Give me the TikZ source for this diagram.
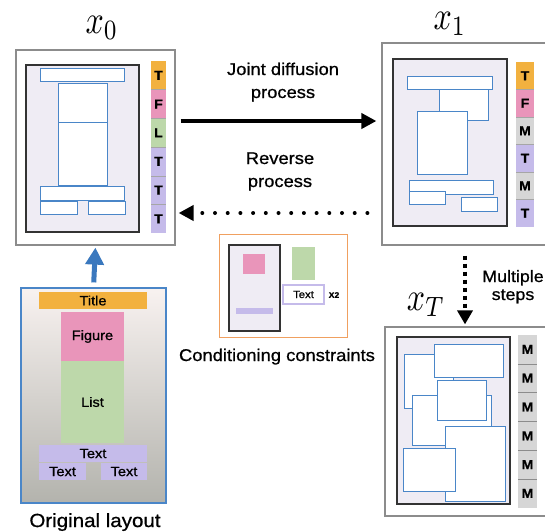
\documentclass[tikz,border=0pt]{standalone}
\usepackage[no-math]{fontspec}
\setmainfont{Liberation Sans}[FakeStretch=1.08, FakeBold=0.8]
\usetikzlibrary{arrows.meta}

\definecolor{frameGray}{HTML}{8C8C8C}
\definecolor{pageLine}{HTML}{333333}
\definecolor{pageFill}{HTML}{EFECF4}
\definecolor{slotBlue}{HTML}{4A86C8}
\definecolor{arrowBlue}{HTML}{3A78BE}
\definecolor{ttlOrange}{HTML}{F2B13F}
\definecolor{figPink}{HTML}{E995BA}
\definecolor{lstGreen}{HTML}{BDD8AA}
\definecolor{txtLav}{HTML}{C5BBEA}
\definecolor{mskGray}{HTML}{D6D6D6}
\definecolor{condOrange}{HTML}{F0A060}
\definecolor{layTop}{HTML}{F8F2F0}
\definecolor{layBot}{HTML}{B3B3AD}

\newcommand{\bigmath}[1]{\scalebox{3.2}[4]{$#1$}}

\begin{document}
\begin{tikzpicture}[
		x=1pt,
		y=-1pt,
		every node/.style={inner sep=0},
		lbl/.style={font=\fontsize{17}{23}\selectfont, align=center},
		frame/.style={draw=frameGray, line width=1.2, fill=white},
		page/.style={draw=pageLine, fill=pageFill, line width=1.2},
		slot/.style={draw=slotBlue, fill=white, line width=1},
		cell/.style={font=\fontsize{13}{13}\selectfont\bfseries},
		sep/.style={draw=black!35, line width=0.6},
		blk/.style={font=\fontsize{13.5}{14}\selectfont},
		mathlbl/.style={anchor=base},
		fwd/.style={line width=4, -{Triangle[length=15,width=15]}},
		rev/.style={line width=4, line cap=round, dash pattern=on 0pt off 12.7pt,
			-{Triangle[length=15,width=15]}},
		down/.style={line width=3.5, dash pattern=on 4pt off 4pt,
			-{Triangle[length=14,width=15]}},
		up/.style={draw=arrowBlue, line width=5, -{Triangle[length=17,width=18]}}
		]
		
		\fill[white] (0,0) rectangle (545,531);
		\useasboundingbox (0,0) rectangle (545,531);
		\clip (0,0) rectangle (545,531);
		
		% three states of the layout
		\node[frame, minimum width=159, minimum height=195] (f0) at (95.5,147.5) {};
		\node[frame, minimum width=166, minimum height=202] (f1) at (465,144) {};
		\node[frame, minimum width=163, minimum height=189] (fT) at (466.5,421.5) {};
		
		\node[mathlbl] (lx0) at (102,33) {\bigmath{x_0}};
		\node[mathlbl] (lx1) at (450,29) {\bigmath{x_1}};
		\node[mathlbl] (lxT) at (426,310) {\bigmath{x_T}};
		
		% x_0: clean layout
		\draw[page] (26,65) rectangle (139,232);
		\draw[slot] (40,68) rectangle (124,81);
		\draw[slot] (58,83) rectangle (107,122);
		\draw[slot] (58,122) rectangle (107,185);
		\draw[slot] (40,186) rectangle (124,200);
		\draw[slot] (40,201) rectangle (77,214);
		\draw[slot] (88,201) rectangle (125,214);
		\foreach \lab/\col [count=\i from 0] in {T/ttlOrange,F/figPink,L/lstGreen,T/txtLav,T/txtLav,T/txtLav} {
			\fill[\col] (151,{61+\i*28.7}) rectangle ++(15,28.7);
			\node[cell] (s0-\i) at (158.5,{75.35+\i*28.7}) {\lab};
		}
		\foreach \k in {1,...,5}
			\draw[sep] (151,{61+\k*28.7}) -- ++(15,0);
		
		% x_1: slightly noised
		\draw[page] (393,59) rectangle (507,226);
		\draw[slot] (439,89) rectangle (488,120);
		\draw[slot] (407,76) rectangle (492,89);
		\draw[slot] (417,111) rectangle (467,174);
		\draw[slot] (409,180) rectangle (493,194);
		\draw[slot] (409,191) rectangle (445,204);
		\draw[slot] (461,197) rectangle (497,211);
		\foreach \lab/\col [count=\i from 0] in {T/ttlOrange,F/figPink,M/mskGray,T/txtLav,M/mskGray,T/txtLav} {
			\fill[\col] (516,{62+\i*27.5}) rectangle ++(18,27.5);
			\node[cell] (s1-\i) at (525,{75.75+\i*27.5}) {\lab};
		}
		\foreach \k in {1,...,5}
			\draw[sep] (516,{62+\k*27.5}) -- ++(18,0);
		
		% x_T: fully noised
		\draw[page] (397,337) rectangle (510,504);
		\draw[slot] (404,354) rectangle (453,408);
		\draw[slot] (412,395) rectangle (491,445);
		\draw[slot] (434,344) rectangle (503,377);
		\draw[slot] (437,380) rectangle (486,420);
		\draw[slot] (445,426) rectangle (505,501);
		\draw[slot] (403,448) rectangle (455,491);
		\foreach \i in {0,...,5} {
			\fill[mskGray] (518,{335+\i*28.8}) rectangle ++(19,28.8);
			\node[cell] (sT-\i) at (527.5,{349.4+\i*28.8}) {M};
		}
		\foreach \k in {1,...,5}
			\draw[sep, draw=black!45] (518,{335+\k*28.8}) -- ++(19,0);
		
		% original layout
		\node[draw=slotBlue, line width=1.2, top color=layTop, bottom color=layBot,
			minimum width=145, minimum height=215] (orig) at (93.5,395.5) {};
		\node[blk, fill=ttlOrange, minimum width=108, minimum height=17] (oTitle) at (93,300.5) {Title};
		\node[blk, fill=figPink, minimum width=63, minimum height=49] (oFig) at (92.5,336.5) {Figure};
		\node[blk, fill=lstGreen, minimum width=63, minimum height=82] (oList) at (92.5,402) {List};
		\node[blk, fill=txtLav, minimum width=108, minimum height=17] (oText) at (93,453.5) {Text};
		\node[blk, fill=txtLav, minimum width=47, minimum height=17] (oTextL) at (62.5,471.5) {Text};
		\node[blk, fill=txtLav, minimum width=46, minimum height=17] (oTextR) at (124,471.5) {Text};
		\node[lbl, font=\fontsize{19}{20}\selectfont, anchor=base] (origLbl) at (95,527) {Original layout};
		
		% conditioning constraints
		\node[draw=condOrange, line width=1, minimum width=128, minimum height=103] (cond) at (283,285.5) {};
		\draw[page] (229,245) rectangle (280,331);
		\fill[figPink] (243,254) rectangle (265,274);
		\fill[txtLav] (236,308) rectangle (273,314);
		\fill[lstGreen] (292,247) rectangle (315,280);
		\node[draw=txtLav, line width=1.2, fill=white, minimum width=41, minimum height=19,
			font=\fontsize{10.5}{10}\selectfont] (cText) at (303.5,294.5) {Text};
		\node[font=\fontsize{8}{8}\selectfont\bfseries] (cTimes) at (334,295) {X2};
		\node[lbl, anchor=base] (condLbl) at (277,361) {Conditioning constraints};
		
		% process arrows
		\node[lbl, anchor=base] (jointLbl) at (283,98) {Joint diffusion\\process};
		\node[lbl, anchor=base] (revLbl) at (280,187) {Reverse\\process};
		\node[lbl, font=\fontsize{16.5}{18}\selectfont, anchor=base] (stepLbl) at (513,300) {Multiple\\steps};
		
		\draw[fwd, shorten <=5, shorten >=5] (f0.east |- 0,121) -- (f1.west |- 0,121);
		\draw[rev, shorten <=14, shorten >=3] (f1.west |- 0,213) -- (f0.east |- 0,213);
		\draw[down, shorten <=10, shorten >=2] (f1.south) -- (f1.south |- fT.north);
		\draw[up, shorten <=5, shorten >=2] (orig.north) -- (f0.south);
		
	\end{tikzpicture}
\end{document}
